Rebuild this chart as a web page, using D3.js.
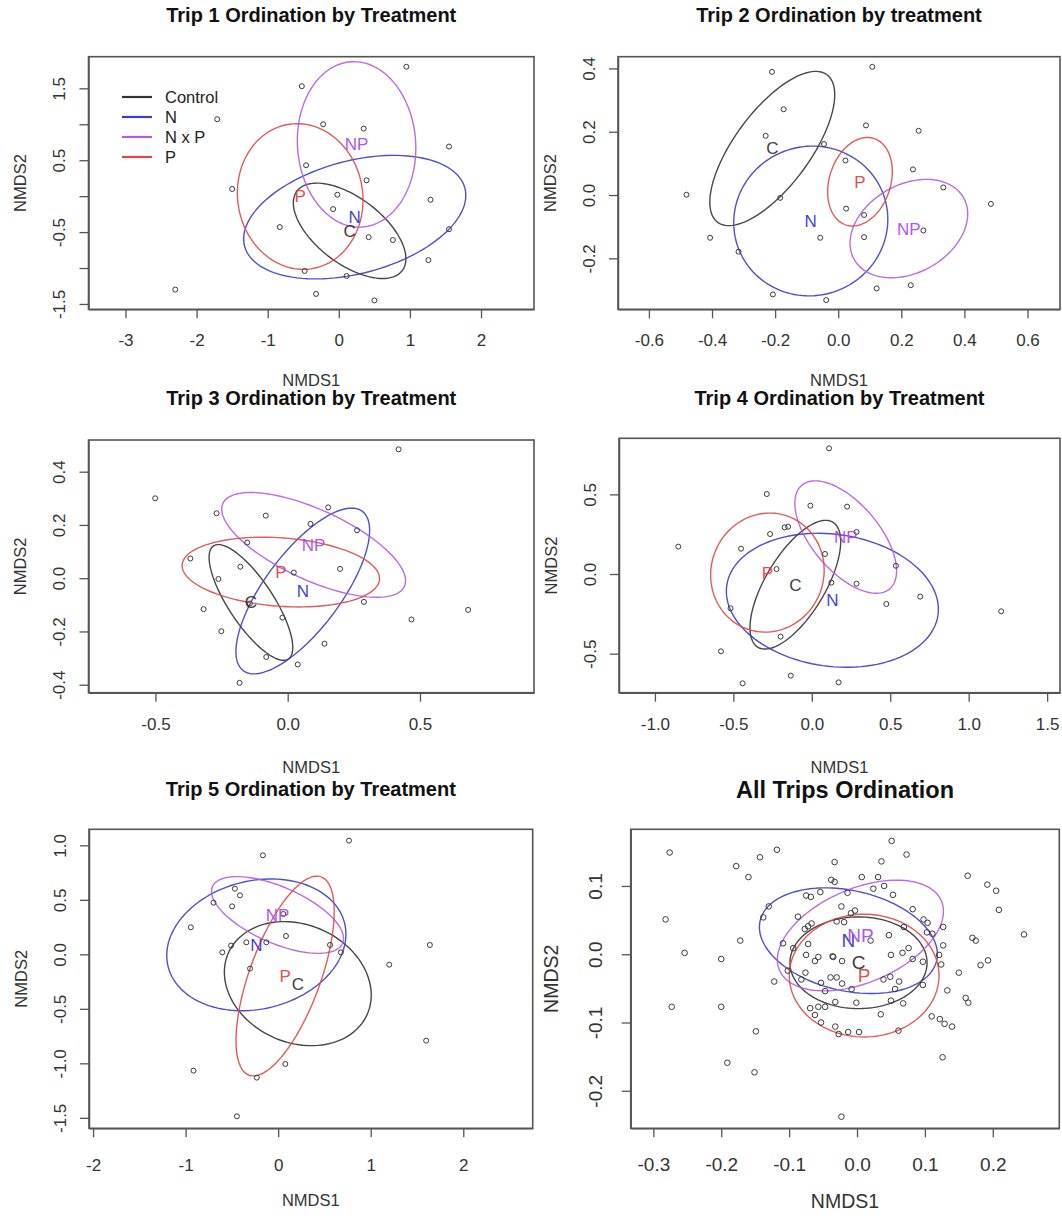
<!DOCTYPE html>
<html>
<head>
<meta charset="utf-8">
<script src="https://cdn.jsdelivr.net/npm/d3@7"></script>
<style>
  body { margin: 0; background: #fff; }
  svg { display: block; font-family: "Liberation Sans", Arial, sans-serif; }
</style>
</head>
<body>
<div id="chart"></div>
<script>
// treatment groups, in the order used by every ellipse array below
const groups = ["C", "N", "NP", "P"];
const legendLabels = ["Control", "N", "N x P", "P"];
const titles = [
  "Trip 1 Ordination by Treatment", "Trip 2 Ordination by treatment",
  "Trip 3 Ordination by Treatment", "Trip 4 Ordination by Treatment",
  "Trip 5 Ordination by Treatment", "All Trips Ordination"
];

// ---- Trip 1 ----
const trip1X = [0.95, -0.52, -1.71, -0.22, 0.35, 1.55, -0.46, 0.39, -1.50, -0.02, 1.29, -0.08, -0.83, 1.55, 0.42, 0.76, 1.26, -0.48, 0.11, -2.30, -0.32, 0.50];
const trip1Y = [1.80, 1.53, 1.07, 1.00, 0.94, 0.69, 0.43, 0.22, 0.10, 0.02, -0.05, -0.18, -0.43, -0.46, -0.57, -0.61, -0.89, -1.04, -1.11, -1.30, -1.36, -1.45];
// ellipse centre and two conjugate semi-axes (data units)
const trip1Centre = [[0.152, -0.482], [0.224, -0.292], [0.25, 0.72], [-0.543, -0.005]];
const trip1AxisA = [[0.738, -0.556], [1.548, 0.408], [-0.071, 1.15], [0.148, -1.006]];
const trip1AxisB = [[-0.286, -0.362], [0.21, -0.756], [0.83, 0.046], [0.871, 0.121]];
const trip1XTicks = [-3, -2, -1, 0, 1, 2];
const trip1XLabels = ["-3", "-2", "-1", "0", "1", "2"];
const trip1YTicks = [-1.5, -1, -0.5, 0, 0.5, 1, 1.5];
const trip1YLabels = ["-1.5", "", "-0.5", "", "0.5", "", "1.5"];

// ---- Trip 2 ----
const trip2X = [-0.210, 0.108, -0.173, 0.088, 0.255, -0.230, -0.045, 0.023, 0.237, -0.481, 0.333, -0.184, 0.484, 0.025, 0.082, -0.406, -0.057, 0.082, 0.270, -0.316, -0.207, -0.038, 0.122, 0.230];
const trip2Y = [0.389, 0.405, 0.271, 0.220, 0.203, 0.187, 0.161, 0.109, 0.081, 0.001, 0.024, -0.009, -0.028, -0.043, -0.063, -0.135, -0.135, -0.133, -0.112, -0.179, -0.314, -0.332, -0.295, -0.285];
const trip2Centre = [[-0.209, 0.147], [-0.087, -0.082], [0.224, -0.106], [0.069, 0.042]];
const trip2AxisA = [[0.172, 0.234], [0.244, 0.016], [0.172, 0.1], [0.043, 0.137]];
const trip2AxisB = [[0.098, -0.068], [-0.011, 0.236], [0.072, -0.119], [0.093, -0.028]];
const trip2XTicks = [-0.6, -0.4, -0.2, 0, 0.2, 0.4, 0.6];
const trip2XLabels = ["-0.6", "-0.4", "-0.2", "0.0", "0.2", "0.4", "0.6"];
const trip2YTicks = [-0.2, 0, 0.2, 0.4];
const trip2YLabels = ["-0.2", "0.0", "0.2", "0.4"];

// ---- Trip 3 ----
const trip3X = [0.419, -0.501, -0.269, -0.083, 0.153, 0.086, 0.262, -0.153, -0.368, -0.179, 0.198, 0.023, -0.262, -0.143, -0.318, 0.288, 0.682, 0.468, -0.020, -0.251, 0.139, -0.081, 0.038, -0.182];
const trip3Y = [0.484, 0.300, 0.244, 0.235, 0.266, 0.204, 0.180, 0.134, 0.074, 0.043, 0.035, 0.021, -0.003, -0.095, -0.116, -0.089, -0.119, -0.155, -0.148, -0.199, -0.246, -0.296, -0.324, -0.393];
const trip3Centre = [[-0.139, -0.091], [0.057, -0.048], [0.098, 0.125], [-0.026, 0.023]];
const trip3AxisA = [[0.141, -0.2125], [0.224, 0.3], [0.343, -0.156], [0.373, -0.0275]];
const trip3AxisB = [[0.0716, 0.045], [0.117, -0.083], [-0.056, -0.12], [-0.010, -0.128]];
const trip3XTicks = [-0.5, 0, 0.5];
const trip3XLabels = ["-0.5", "0.0", "0.5"];
const trip3YTicks = [-0.4, -0.2, 0, 0.2, 0.4];
const trip3YLabels = ["-0.4", "-0.2", "0.0", "0.2", "0.4"];

// ---- Trip 4 ----
const trip4X = [0.110, -0.287, -0.009, 0.225, -0.173, -0.151, -0.266, 0.285, -0.851, -0.451, 0.084, 0.536, -0.225, 0.125, 0.285, 0.691, 0.475, 1.207, -0.518, -0.199, -0.579, -0.134, -0.441, 0.171];
const trip4Y = [0.789, 0.502, 0.429, 0.423, 0.293, 0.297, 0.251, 0.264, 0.172, 0.159, 0.126, 0.052, 0.031, -0.054, -0.061, -0.142, -0.188, -0.234, -0.215, -0.393, -0.485, -0.638, -0.686, -0.680];
const trip4Centre = [[-0.105, -0.067], [0.131, -0.165], [0.216, 0.232], [-0.283, 0.009]];
const trip4AxisA = [[0.238, 0.393], [0.673, -0.094], [0.278, -0.327], [0.356, -0.052]];
const trip4AxisB = [[0.164, -0.094], [-0.061, -0.410], [-0.167, -0.133], [-0.065, -0.370]];
const trip4XTicks = [-1, -0.5, 0, 0.5, 1, 1.5];
const trip4XLabels = ["-1.0", "-0.5", "0.0", "0.5", "1.0", "1.5"];
const trip4YTicks = [-0.5, 0, 0.5];
const trip4YLabels = ["-0.5", "0.0", "0.5"];

// ---- Trip 5 ----
const trip5X = [0.765, -0.165, -0.468, -0.413, -0.699, -0.498, 0.055, -0.944, 0.084, 1.639, -0.344, -0.128, -0.509, -0.604, 0.560, 0.677, 1.200, -0.304, 1.599, 0.077, -0.915, -0.231, -0.446];
const trip5Y = [1.043, 0.908, 0.602, 0.541, 0.474, 0.440, 0.370, 0.248, 0.168, 0.086, 0.110, 0.110, 0.080, 0.018, 0.086, 0.018, -0.095, -0.131, -0.792, -1.006, -1.067, -1.131, -1.486];
const trip5Centre = [[0.212, -0.269], [-0.236, 0.087], [-0.007, 0.361], [0.075, -0.199]];
const trip5AxisA = [[0.745, -0.291], [0.952, 0.204], [0.702, -0.262], [0.388, 0.910]];
const trip5AxisB = [[-0.273, -0.489], [0.175, -0.569], [-0.126, -0.235], [0.362, -0.108]];
const trip5XTicks = [-2, -1, 0, 1, 2];
const trip5XLabels = ["-2", "-1", "0", "1", "2"];
const trip5YTicks = [-1.5, -1, -0.5, 0, 0.5, 1];
const trip5YLabels = ["-1.5", "-1.0", "-0.5", "0.0", "0.5", "1.0"];

// ---- All trips ----
const allX = [0.051, -0.276, -0.118, -0.143, 0.073, -0.033, 0.036, -0.178, -0.160, -0.038, -0.033, 0.007, 0.031, 0.163, 0.024, 0.040, 0.192, 0.205, -0.054, -0.014,
  -0.075, -0.068, 0.053, -0.130, -0.023, 0.082, 0.209, -0.282, -0.138, -0.003, -0.009, -0.087, 0.098, 0.104, -0.030, -0.019, -0.067, -0.072, -0.077, 0.069,
  0.127, 0.047, 0.103, 0.111, 0.170, 0.175, 0.246, -0.172, 0.020, -0.109, -0.072, 0.127, -0.254, -0.094, 0.076, -0.075, -0.057, -0.036, -0.035, 0.050,
  0.067, -0.062, -0.022, 0.082, 0.121, 0.097, -0.200, 0.124, 0.193, 0.182, -0.102, -0.076, 0.150, -0.082, -0.122, -0.039, -0.030, -0.053, -0.022, 0.039,
  0.049, 0.062, -0.008, -0.047, 0.056, 0.097, 0.133, -0.032, -0.001, 0.050, 0.068, 0.160, 0.164, -0.069, -0.057, -0.047, -0.062, 0.035, -0.200, -0.273,
  0.110, 0.122, 0.129, 0.140, -0.053, -0.032, -0.027, -0.013, 0.003, 0.061, -0.149, 0.126, -0.191, -0.151, -0.023];
const allY = [0.166, 0.149, 0.153, 0.142, 0.146, 0.135, 0.136, 0.129, 0.113, 0.109, 0.106, 0.113, 0.113, 0.115, 0.096, 0.100, 0.102, 0.093, 0.091, 0.090,
  0.086, 0.084, 0.087, 0.070, 0.070, 0.066, 0.065, 0.051, 0.054, 0.064, 0.060, 0.055, 0.051, 0.046, 0.048, 0.047, 0.045, 0.041, 0.037, 0.040,
  0.040, 0.028, 0.032, 0.030, 0.024, 0.020, 0.029, 0.020, 0.020, 0.016, 0.015, 0.013, 0.002, 0.009, 0.009, -0.001, -0.004, -0.003, -0.004, -0.001,
  0.002, -0.010, -0.010, -0.007, -0.001, -0.011, -0.007, -0.015, -0.009, -0.016, -0.024, -0.027, -0.027, -0.037, -0.040, -0.034, -0.034, -0.042, -0.043, -0.037,
  -0.033, -0.040, -0.051, -0.054, -0.051, -0.045, -0.053, -0.070, -0.071, -0.068, -0.072, -0.064, -0.071, -0.079, -0.077, -0.077, -0.089, -0.088, -0.077, -0.077,
  -0.091, -0.095, -0.102, -0.106, -0.100, -0.106, -0.117, -0.114, -0.114, -0.112, -0.113, -0.151, -0.159, -0.173, -0.238];
const allCentre = [[0.0022, -0.0125], [-0.0127, 0.0198], [0.005, 0.0274], [0.0105, -0.0313]];
const allAxisA = [[0.101, 0], [0.130, -0.0294], [0.119, 0.0513], [0.1103, 0]];
const allAxisB = [[0, -0.0672], [-0.0169, -0.0716], [0.0283, -0.0628], [0, -0.0899]];
const allXTicks = [-0.3, -0.2, -0.1, 0, 0.1, 0.2];
const allXLabels = ["-0.3", "-0.2", "-0.1", "0.0", "0.1", "0.2"];
const allYTicks = [-0.2, -0.1, 0, 0.1];
const allYLabels = ["-0.2", "-0.1", "0.0", "0.1"];

// ---- drawing ----
const width = 1062, height = 1224;
const colors = { C: "#333333", N: "#3c3cc8", NP: "#b05ce6", P: "#e04848" };
const labelColors = { C: "#2a2a2a", N: "#2f2fd0", NP: "#a848e8", P: "#e83a3a" };

const svg = d3.select("#chart").append("svg")
  .attr("width", width)
  .attr("height", height);

// layout: plot box [left, top, right, bottom] and axis ranges for each panel
const panels = [
  { title: titles[0], xs: trip1X, ys: trip1Y, centre: trip1Centre, axA: trip1AxisA, axB: trip1AxisB,
    xTicks: trip1XTicks, xLabels: trip1XLabels, yTicks: trip1YTicks, yLabels: trip1YLabels,
    box: [88.5, 56.7, 534, 309.3], xDom: [-3.52, 2.745], yDom: [-1.574, 1.94],
    titleY: 22, xlabY: 386, legend: true, big: false },
  { title: titles[1], xs: trip2X, ys: trip2Y, centre: trip2Centre, axA: trip2AxisA, axB: trip2AxisB,
    xTicks: trip2XTicks, xLabels: trip2XLabels, yTicks: trip2YTicks, yLabels: trip2YLabels,
    box: [618, 56.7, 1060, 309.3], xDom: [-0.698, 0.703], yDom: [-0.361, 0.437],
    titleY: 22, xlabY: 386, big: false },
  { title: titles[2], xs: trip3X, ys: trip3Y, centre: trip3Centre, axA: trip3AxisA, axB: trip3AxisB,
    xTicks: trip3XTicks, xLabels: trip3XLabels, yTicks: trip3YTicks, yLabels: trip3YLabels,
    box: [88.5, 440, 534, 692.7], xDom: [-0.753, 0.931], yDom: [-0.430, 0.519],
    titleY: 405, xlabY: 773, big: false },
  { title: titles[3], xs: trip4X, ys: trip4Y, centre: trip4Centre, axA: trip4AxisA, axB: trip4AxisB,
    xTicks: trip4XTicks, xLabels: trip4XLabels, yTicks: trip4YTicks, yLabels: trip4YLabels,
    box: [619, 438.3, 1060, 692.7], xDom: [-1.229, 1.582], yDom: [-0.745, 0.852],
    titleY: 405, xlabY: 773, big: false },
  { title: titles[4], xs: trip5X, ys: trip5Y, centre: trip5Centre, axA: trip5AxisA, axB: trip5AxisB,
    xTicks: trip5XTicks, xLabels: trip5XLabels, yTicks: trip5YTicks, yLabels: trip5YLabels,
    box: [89, 829.3, 532.7, 1128.3], xDom: [-2.044, 2.75], yDom: [-1.596, 1.147],
    titleY: 796, xlabY: 1206, big: false },
  { title: titles[5], xs: allX, ys: allY, centre: allCentre, axA: allAxisA, axB: allAxisB,
    xTicks: allXTicks, xLabels: allXLabels, yTicks: allYTicks, yLabels: allYLabels,
    box: [630.7, 829.3, 1059.3, 1128.3], xDom: [-0.3334, 0.298], yDom: [-0.255, 0.183],
    titleY: 798, xlabY: 1208, big: true }
];

const angles = d3.range(0, 361, 3).map(a => a * Math.PI / 180);

panels.forEach(p => {
  const [left, top, right, bottom] = p.box;
  const tickFont = p.big ? 19 : 17;
  const labFont = p.big ? 19.5 : 16.5;
  const titleFont = p.big ? 23.5 : 20;
  const groupFont = p.big ? 19 : 17;
  const r = p.big ? 2.8 : 2.5;

  const x = d3.scaleLinear().domain(p.xDom).range([left, right]);
  const y = d3.scaleLinear().domain(p.yDom).range([bottom, top]);
  const g = svg.append("g");

  // x axis
  const xAxis = g.append("g")
    .attr("transform", `translate(0,${bottom})`)
    .call(d3.axisBottom(x).tickValues(p.xTicks).tickSize(9).tickSizeOuter(0)
      .tickPadding(p.big ? 20 : (bottom > 1000 ? 22 : 16))
      .tickFormat((d, i) => p.xLabels[i]));
  xAxis.selectAll("text").attr("font-size", tickFont).attr("fill", "#333")
    .attr("font-family", "Liberation Sans, Arial, sans-serif");

  // y axis, labels turned like R's default
  const yAxis = g.append("g")
    .attr("transform", `translate(${left},0)`)
    .call(d3.axisLeft(y).tickValues(p.yTicks).tickSize(9).tickSizeOuter(0)
      .tickFormat((d, i) => p.yLabels[i]));
  yAxis.selectAll("text")
    .attr("x", 0)
    .attr("dy", "0.35em")
    .attr("text-anchor", "middle")
    .attr("transform", `translate(${p.big ? -35 : -29},0) rotate(-90)`)
    .attr("font-size", tickFont).attr("fill", "#333")
    .attr("font-family", "Liberation Sans, Arial, sans-serif");
  g.selectAll(".tick line").attr("stroke", "#555").attr("stroke-width", 1.3);
  g.selectAll(".domain").attr("stroke", "#555").attr("stroke-width", 1.5);

  // plot box
  g.append("rect")
    .attr("x", left).attr("y", top)
    .attr("width", right - left).attr("height", bottom - top)
    .attr("fill", "none").attr("stroke", "#555").attr("stroke-width", 1.6);

  // ellipses
  const line = d3.line().x(d => x(d[0])).y(d => y(d[1]));
  groups.forEach((grp, i) => {
    const c = p.centre[i], a = p.axA[i], b = p.axB[i];
    const pts = angles.map(t => [
      c[0] + a[0] * Math.cos(t) + b[0] * Math.sin(t),
      c[1] + a[1] * Math.cos(t) + b[1] * Math.sin(t)
    ]);
    g.append("path")
      .attr("d", line(pts))
      .attr("fill", "none")
      .attr("stroke", colors[grp])
      .attr("stroke-width", 1.4)
      .attr("opacity", 0.9);
  });

  // sites
  g.selectAll("circle.site")
    .data(p.xs.map((v, i) => [v, p.ys[i]]))
    .join("circle")
    .attr("class", "site")
    .attr("cx", d => x(d[0]))
    .attr("cy", d => y(d[1]))
    .attr("r", r)
    .attr("fill", "none")
    .attr("stroke", "#3a3a3a")
    .attr("stroke-width", 1);

  // group labels at centroids
  groups.forEach((grp, i) => {
    g.append("text")
      .attr("x", x(p.centre[i][0]))
      .attr("y", y(p.centre[i][1]))
      .attr("dy", "0.35em")
      .attr("text-anchor", "middle")
      .attr("font-size", groupFont)
      .attr("fill", labelColors[grp])
      .attr("opacity", 0.9)
      .text(grp);
  });

  // titles
  g.append("text")
    .attr("x", (left + right) / 2)
    .attr("y", p.titleY)
    .attr("text-anchor", "middle")
    .attr("font-size", titleFont)
    .attr("font-weight", "bold")
    .attr("fill", "#111")
    .text(p.title);

  g.append("text")
    .attr("x", (left + right) / 2)
    .attr("y", p.xlabY)
    .attr("text-anchor", "middle")
    .attr("font-size", labFont)
    .attr("fill", "#333")
    .text("NMDS1");

  g.append("text")
    .attr("transform", `translate(${left - (p.big ? 80 : 68)},${(top + bottom) / 2}) rotate(-90)`)
    .attr("dy", "0.35em")
    .attr("text-anchor", "middle")
    .attr("font-size", labFont)
    .attr("fill", "#333")
    .text("NMDS2");

  if (p.legend) {
    legendLabels.forEach((lab, i) => {
      const ly = 97 + i * 20;
      g.append("line")
        .attr("x1", 122).attr("x2", 152)
        .attr("y1", ly).attr("y2", ly)
        .attr("stroke", colors[groups[i]])
        .attr("stroke-width", 2.2);
      g.append("text")
        .attr("x", 165).attr("y", ly)
        .attr("dy", "0.35em")
        .attr("font-size", 16.5)
        .attr("fill", "#222")
        .text(lab);
    });
  }
});
</script>
</body>
</html>
